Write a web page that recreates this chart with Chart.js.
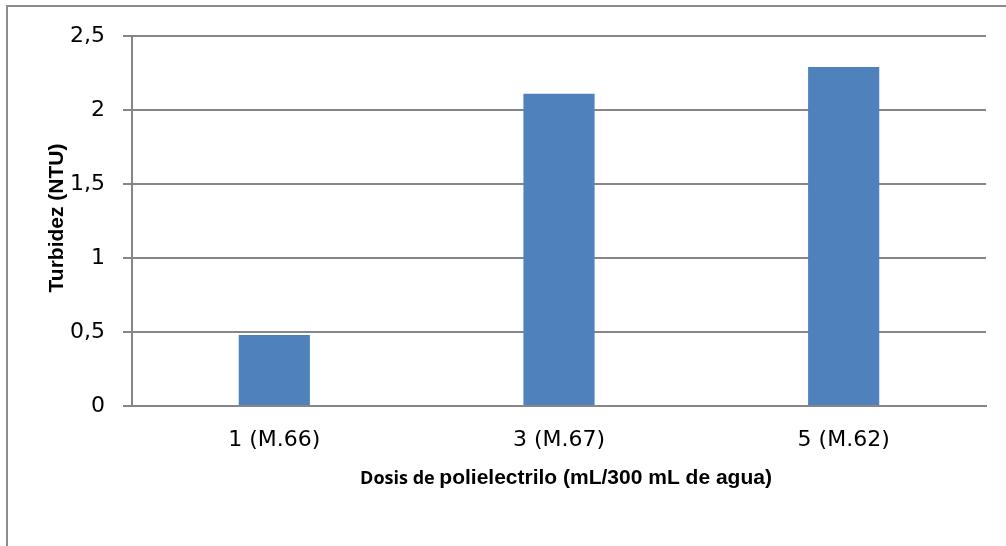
<!DOCTYPE html>
<html>
<head>
<meta charset="utf-8">
<script src="https://cdn.jsdelivr.net/npm/chart.js@4"></script>
<style>
  body { margin: 0; background: #fff; }
  #wrap { width: 1006px; height: 546px; position: relative; }
</style>
</head>
<body>
<div id="wrap"><canvas id="chart"></canvas></div>
<script>
"use strict";

const doses = ['1 (M.66)', '3 (M.67)', '5 (M.62)'];
const turbidity = [0.48, 2.11, 2.29];
const yTickLabels = ['0', '0,5', '1', '1,5', '2', '2,5'];

const yTitle = 'Turbidez (NTU)';
const xTitleStart = 'Dosis de ';
const xTitleRest = 'polielectrilo (mL/300 mL de agua)';

const gridGrey = '#868686';

// frame lines and the two axis titles (x title uses two fonts)
const decorations = {
  id: 'decorations',
  beforeDraw(chart) {
    const ctx = chart.ctx;
    ctx.save();
    ctx.strokeStyle = '#8c8c8c';
    ctx.lineWidth = 2;
    ctx.beginPath();
    ctx.moveTo(7, 546);
    ctx.lineTo(7, 6);
    ctx.lineTo(1006, 6);
    ctx.stroke();
    ctx.restore();
  },
  afterDraw(chart) {
    const ctx = chart.ctx;
    ctx.save();
    ctx.fillStyle = '#000';
    ctx.textBaseline = 'alphabetic';

    ctx.font = 'bold 18px "Open Sans"';
    const w1 = ctx.measureText(xTitleStart).width;
    ctx.font = 'bold 21px "Liberation Sans"';
    const w2 = ctx.measureText(xTitleRest).width;
    let x = 566 - (w1 + w2) / 2;
    ctx.textAlign = 'left';
    ctx.font = 'bold 18px "Open Sans"';
    ctx.fillText(xTitleStart, x, 484);
    ctx.font = 'bold 21px "Liberation Sans"';
    ctx.fillText(xTitleRest, x + w1, 484);

    ctx.translate(63, 218);
    ctx.rotate(-Math.PI / 2);
    ctx.textAlign = 'center';
    ctx.font = 'bold 21px "Liberation Sans"';
    ctx.fillText(yTitle, 0, 0);
    ctx.restore();
  }
};

const data = {
  labels: doses,
  datasets: [
    {
      label: 'Turbidez',
      data: turbidity,
      backgroundColor: '#4F81BD',
      borderWidth: 0,
      categoryPercentage: 1,
      barPercentage: 0.25,
    },
  ],
};

const config = {
  type: 'bar',
  data: data,
  options: {
    responsive: true,
    maintainAspectRatio: false,
    animation: false,
    layout: { padding: { top: 36, right: 20, left: 0, bottom: 0 } },
    plugins: {
      legend: { display: false },
      tooltip: { enabled: false },
    },
    scales: {
      x: {
        afterFit(scale) { scale.height = 140; },
        grid: { display: false, drawTicks: false },
        border: { display: true, color: gridGrey, width: 2 },
        ticks: {
          color: '#000',
          padding: 21,
          font: { family: 'DejaVu Sans', size: 22 },
        },
      },
      y: {
        min: 0,
        max: 2.5,
        afterFit(scale) { scale.width = 132; },
        grid: { color: gridGrey, lineWidth: 2, tickLength: 9 },
        border: { display: true, color: gridGrey, width: 2 },
        ticks: {
          stepSize: 0.5,
          color: '#000',
          padding: 18,
          font: { family: 'DejaVu Sans', size: 22 },
          callback: (value, index) => yTickLabels[index],
        },
      },
    },
  },
  plugins: [decorations],
};

const turbidityChart = new Chart(document.getElementById('chart'), config);
</script>
</body>
</html>
